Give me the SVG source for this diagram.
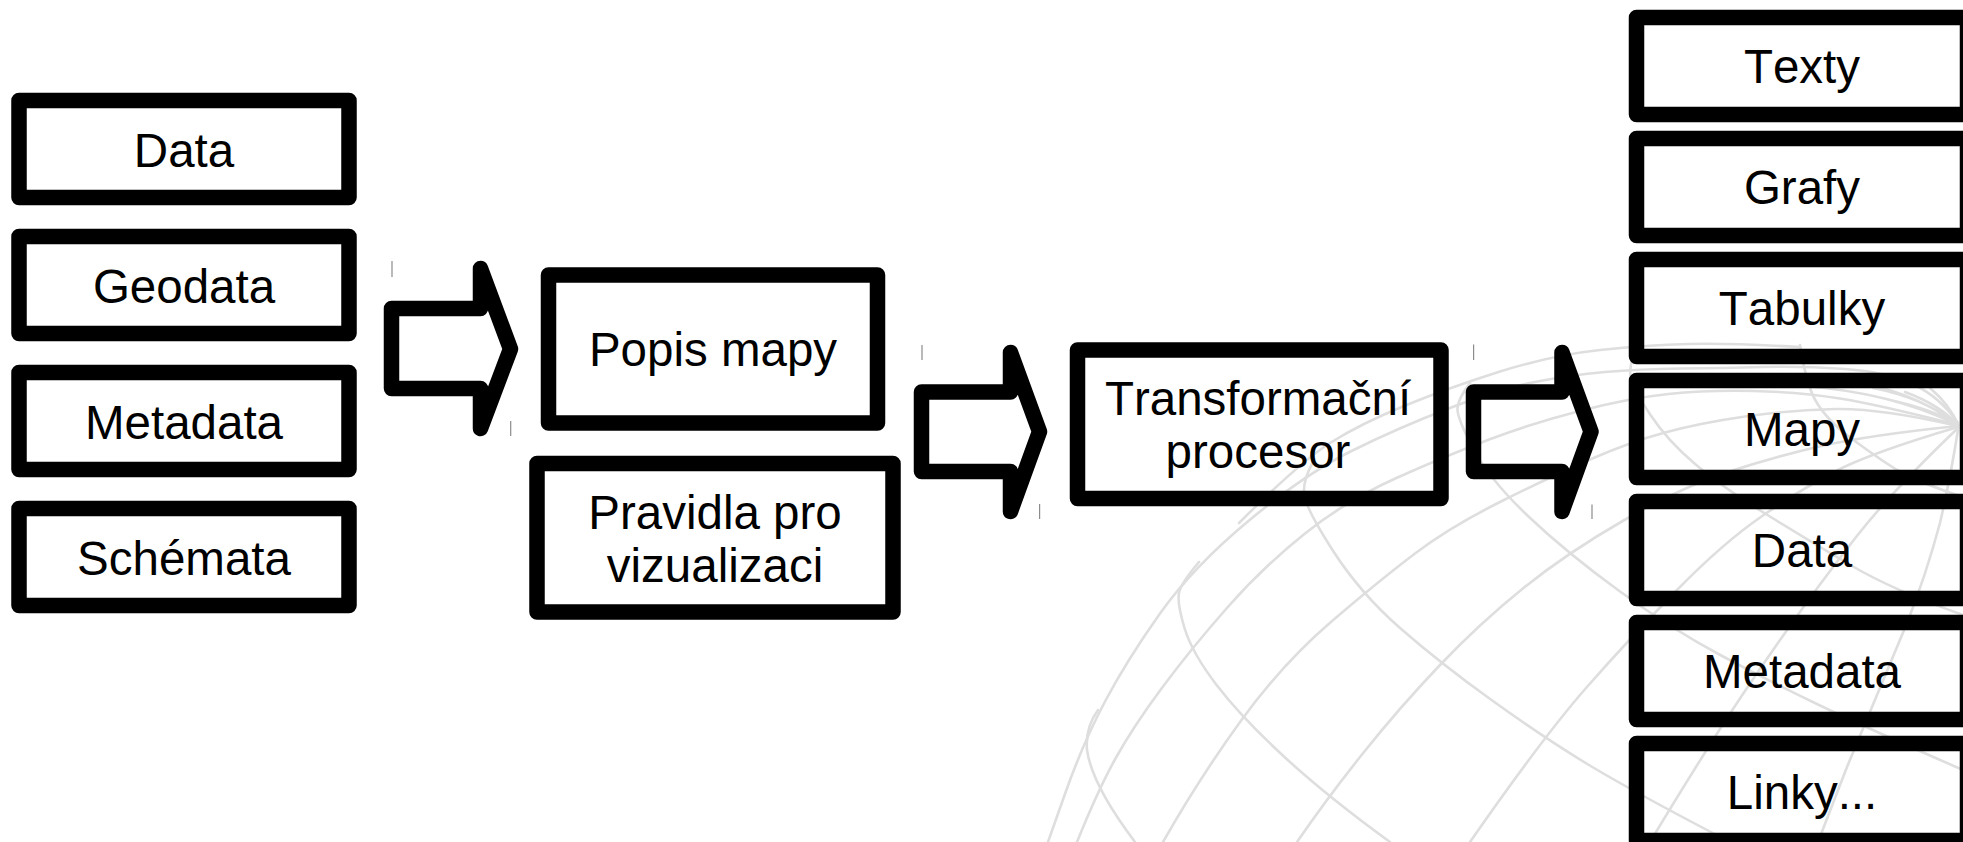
<svg xmlns="http://www.w3.org/2000/svg" width="1963" height="842" viewBox="0 0 1963 842">
<style>
.bg{fill:#fff}
.g{fill:none;stroke:#dedede;stroke-width:2.6;stroke-linejoin:round;stroke-linecap:round}
.box,.arrow{fill:none;stroke:#000;stroke-width:15.5;stroke-linejoin:round}
.tick{stroke:#8c8c8c;stroke-width:1.2}
text{font-family:"Liberation Sans",Arial,sans-serif;font-size:47.5px;font-kerning:none;fill:#000;text-anchor:middle}
</style>
<rect class="bg" width="1963" height="842"/>
<g id="globe">
<path class="g" d="M1239 523Q1300 462 1330 443Q1360 424 1404 406Q1448 388 1500 371.5Q1553 355 1600 350Q1647 345 1688.5 344Q1730 343 1800 347"/>
<path class="g" d="M1958 423Q1940 397 1913.5 384.5Q1887 372 1845 369Q1803 366 1763 367Q1723 368 1681.5 368.5Q1640 369 1605 372Q1570 375 1535 382Q1500 389 1450 408Q1400 427 1352.5 450.5Q1305 474 1249 520.5Q1193 567 1160 613.5Q1127 660 1105 701.5Q1083 743 1065.5 792.5L1048 842"/>
<path class="g" d="M1958 425Q1880 405 1840 398.5Q1800 392 1753.5 391Q1707 390 1668.5 394Q1630 398 1581.5 410.5Q1533 423 1490.5 439Q1448 455 1397.5 477.5Q1347 500 1305 533.5Q1263 567 1226.5 608.5Q1190 650 1161.5 688.5Q1133 727 1115.5 758.5Q1098 790 1077 842"/>
<path class="g" d="M1958 426Q1880 408 1835 409Q1790 410 1745 416.5Q1700 423 1665 432.5Q1630 442 1590 459.5Q1550 477 1500 502Q1450 527 1415 553.5Q1380 580 1331.5 621.5Q1283 663 1241.5 720Q1200 777 1163 842"/>
<path class="g" d="M1958 426Q1870 435 1821.5 446Q1773 457 1726.5 472.5Q1680 488 1623.5 520.5Q1567 553 1523.5 588Q1480 623 1440 665Q1400 707 1364 752Q1328 797 1297 842"/>
<path class="g" d="M1958 427Q1870 453 1835 471.5Q1800 490 1761.5 516.5Q1723 543 1676.5 590.5Q1630 638 1586.5 687.5Q1543 737 1470 842"/>
<path class="g" d="M1958 428Q1893 490 1856.5 536.5Q1820 583 1780 640Q1740 697 1708.5 747Q1677 797 1650 842"/>
<path class="g" d="M1958 430Q1950 480 1940 523Q1926 575 1907 623Q1877 695 1847 767L1818 842"/>
<path class="g" d="M1636 345Q1628 370 1631 380Q1634 390 1650.5 415Q1667 440 1694.5 463.5Q1722 487 1767.5 515Q1813 543 1853 566.5Q1893 590 1963 615"/>
<path class="g" d="M1470 383Q1457 400 1457.5 410Q1458 420 1474 450Q1490 480 1528.5 516.5Q1567 553 1620 591.5Q1673 630 1723 656.5Q1773 683 1820 705.5Q1867 728 1963 770"/>
<path class="g" d="M1313 462Q1303 480 1304 493.5Q1305 507 1332.5 550Q1360 593 1400 628Q1440 663 1491.5 700Q1543 737 1586.5 763.5Q1630 790 1730 842"/>
<path class="g" d="M1199 562Q1181 583 1179 593Q1177 603 1184.5 628Q1192 653 1217 685.5Q1242 718 1285 757.5Q1328 797 1390 842"/>
<path class="g" d="M1098 710Q1085 728 1087 750Q1092 785 1135 842"/>
<path class="g" d="M1800 345Q1803 367 1810 388Q1817 410 1843 432Q1870 453 1897 470Q1925 485 1963 497"/>
<path class="g" d="M1803 386Q1890 392 1958 425M1840 380Q1910 388 1958 425M1873 388Q1925 398 1958 425M1930 388Q1950 405 1958 425M1905 392Q1940 405 1958 425M1890 400Q1935 410 1958 425"/>
</g>
<g id="connectors">
<path class="arrow" d="M391.5 308.5H480.5V268.5L510.5 349L480.5 428.5V388.5H391.5Z"/>
<path class="arrow" d="M921.5 392H1010.5V352.5L1039.5 431.7L1010.5 511.5V471.5H921.5Z"/>
<path class="arrow" d="M1473.5 392H1562V352.5L1591 431.7L1562 511.5V471.5H1473.5Z"/>
<path class="tick" d="M392 261V277M510.7 421V436M922 345V360M1039.6 504V519M1473.6 344.5V360M1592 504.5V519"/>
</g>
<g id="data1"><rect class="box" x="19" y="100.5" width="330" height="97"/><text x="184" y="166.5">Data</text></g>
<g id="geodata"><rect class="box" x="19" y="236.5" width="330" height="97"/><text x="184" y="302.5">Geodata</text></g>
<g id="metadata1"><rect class="box" x="19" y="372.5" width="330" height="97"/><text x="184" y="438.5">Metadata</text></g>
<g id="schemata"><rect class="box" x="19" y="508.5" width="330" height="97"/><text x="184" y="574.5">Schémata</text></g>
<g id="popis"><rect class="box" x="548.5" y="275" width="329" height="148"/><text x="713" y="366">Popis mapy</text></g>
<g id="pravidla"><rect class="box" x="537" y="463.5" width="356" height="148.5"/><text x="715" y="528.5">Pravidla pro</text><text x="715" y="581.5">vizualizaci</text></g>
<g id="procesor"><rect class="box" x="1077.5" y="350" width="363.5" height="148.5"/><text x="1258" y="415">Transformační</text><text x="1258" y="468">procesor</text></g>
<g id="texty"><rect class="box" x="1636.5" y="17.5" width="331" height="97"/><text x="1802" y="83">Texty</text></g>
<g id="grafy"><rect class="box" x="1636.5" y="138.5" width="331" height="97"/><text x="1802" y="204">Grafy</text></g>
<g id="tabulky"><rect class="box" x="1636.5" y="259.5" width="331" height="97"/><text x="1802" y="324.5">Tabulky</text></g>
<g id="mapy"><rect class="box" x="1636.5" y="380.5" width="331" height="97"/><text x="1802" y="446">Mapy</text></g>
<g id="data2"><rect class="box" x="1636.5" y="501.5" width="331" height="97"/><text x="1802" y="567">Data</text></g>
<g id="metadata2"><rect class="box" x="1636.5" y="622.5" width="331" height="97"/><text x="1802" y="688">Metadata</text></g>
<g id="linky"><rect class="box" x="1636.5" y="743.5" width="331" height="97"/><text x="1802" y="809">Linky...</text></g>
</svg>
